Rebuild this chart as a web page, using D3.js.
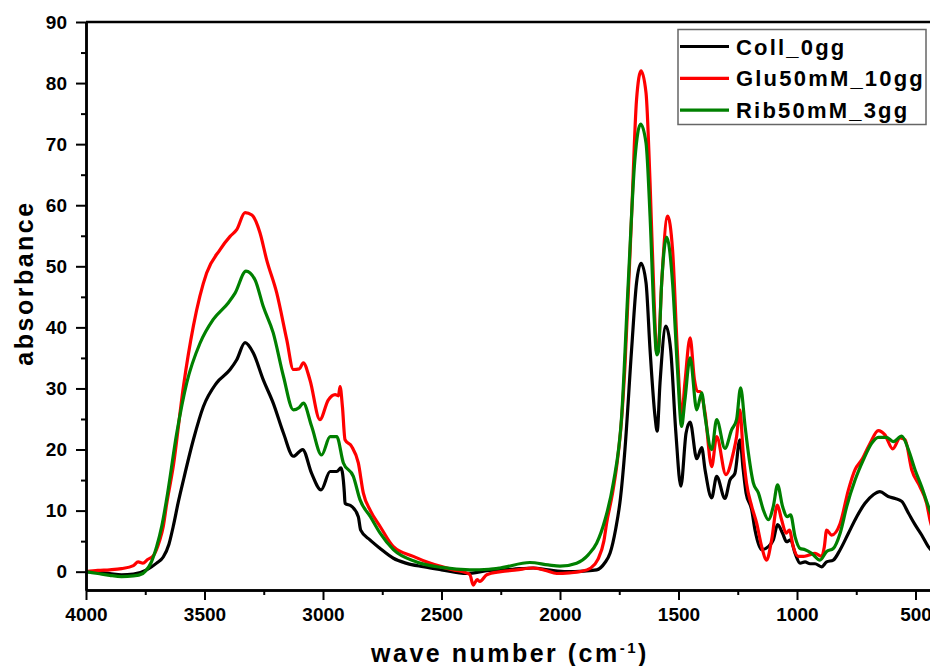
<!DOCTYPE html>
<html>
<head>
<meta charset="utf-8">
<script src="https://cdn.jsdelivr.net/npm/d3@7"></script>
<style>
html,body{margin:0;padding:0;background:#fff;overflow:hidden;}
svg{display:block;}
text{font-family:"Liberation Sans",Arial,sans-serif;font-weight:bold;fill:#000;}
</style>
</head>
<body>
<svg id="chart" width="930" height="666"></svg>
<script>
// ---- data ----
const seriesNames = ["Coll_0gg", "Glu50mM_10gg", "Rib50mM_3gg"];
const seriesColors = ["#000000", "#ff0000", "#008000"];
const xTickValues = [4000, 3500, 3000, 2500, 2000, 1500, 1000, 500];
const yTickValues = [0, 10, 20, 30, 40, 50, 60, 70, 80, 90];

const collData = [[4000,0],[3950,-0.1],[3900,-0.3],[3850,-0.5],[3800,-0.4],[3744,0.3],[3702,1.4],[3674,2.4],[3650,4.5],[3632,7.4],[3610,11.5],[3589,15],[3547,21.6],[3505,27.0],[3449,30.9],[3392,33.1],[3364,34.7],[3329,37.5],[3294,35.8],[3252,31.4],[3210,27.6],[3167,22.7],[3125,18.9],[3086,20.0],[3048,16.1],[3008,13.4],[2970,16.4],[2942,16.4],[2924,17],[2910,13],[2907,11.2],[2879,10.7],[2851,9.0],[2841,6.8],[2802,5.2],[2759,3.8],[2703,2.2],[2650,1.4],[2577,0.8],[2500,0.3],[2394,-0.3],[2300,0.2],[2200,0.4],[2113,0.6],[2050,0.3],[1972,0],[1900,0.1],[1845,0.3],[1810,1.5],[1789,3],[1765,7],[1745,12],[1726,20],[1698,36.3],[1677,47.3],[1658,50.5],[1637,47.3],[1620,36.3],[1599,25.4],[1590,23.0],[1578,30.9],[1553,40.2],[1533,36.3],[1511,22.7],[1490,14],[1468,22.7],[1451,24.5],[1423,18.5],[1402,20.3],[1388,16.7],[1360,12.1],[1339,15.6],[1304,12.0],[1283,15.0],[1262,16.1],[1241,21.6],[1227,16.7],[1215,12.9],[1191,10.1],[1177,6.8],[1149,3.6],[1121,4.1],[1100,5.2],[1082,7.7],[1061,6.3],[1044,4.9],[1027,5.2],[1008,3.0],[987,1.4],[966,1.6],[945,1.3],[924,1.3],[896,0.8],[875,1.6],[847,1.9],[818,3.6],[783,6.3],[748,9.0],[713,11.2],[678,12.6],[650,13.1],[615,12.3],[586,12.0],[558,11.5],[530,9.6],[502,7.7],[474,6.0],[446,4.1],[420,3.0]];

const gluData = [[4000,0],[3950,0.2],[3900,0.3],[3850,0.5],[3800,1.0],[3780,1.6],[3760,1.4],[3740,2.0],[3716,2.6],[3690,5],[3674,7.4],[3660,11],[3632,17.2],[3589,30.3],[3547,40.2],[3491,48.9],[3435,52.7],[3392,54.9],[3364,56],[3329,58.8],[3300,58.4],[3266,55.5],[3238,51.1],[3195,45.6],[3153,38],[3125,33.1],[3100,33.2],[3083,34.2],[3055,31.4],[3013,24.9],[2978,28.1],[2949,29],[2935,28.8],[2928,30.3],[2918,27],[2907,21.6],[2879,20.5],[2851,17.8],[2830,12.9],[2800,10],[2759,7.4],[2703,4.1],[2619,2.5],[2549,1.4],[2450,0.3],[2394,-0.2],[2380,-0.5],[2366,-2.2],[2350,-1.3],[2338,-1.6],[2309,-0.5],[2250,0],[2183,0.3],[2113,0.6],[2060,0.2],[2014,-0.3],[1960,-0.2],[1916,0],[1870,0.6],[1840,2],[1815,5],[1803,8.0],[1780,12.5],[1761,17.2],[1740,25],[1726,33.6],[1698,58.2],[1677,77.3],[1658,82],[1637,78.4],[1620,63.7],[1603,44.5],[1592,36],[1585,36.5],[1571,47.3],[1546,58.2],[1525,52.7],[1505,36.3],[1487,25.4],[1473,30.9],[1451,38.3],[1433,31.5],[1420,29.5],[1409,29.5],[1388,26],[1360,17.2],[1339,22.1],[1300,15.9],[1269,19.4],[1255,22.1],[1241,26.5],[1227,19.4],[1213,14.5],[1191,10.7],[1170,7.9],[1149,4.1],[1128,1.9],[1107,5.2],[1083,10.9],[1065,8.5],[1046,6.3],[1032,6.8],[1016,4.1],[995,2.5],[973,2.5],[952,2.7],[924,3.0],[896,2.5],[885,4],[875,6.8],[854,6.0],[818,7.9],[783,13.4],[755,16.7],[727,18.3],[692,21.0],[657,23.1],[629,22.4],[596,20.1],[565,21.9],[544,21.6],[516,16.7],[481,13.9],[453,11.2],[439,8.5],[420,6]];

const ribData = [[4000,0],[3950,-0.3],[3900,-0.6],[3850,-0.8],[3800,-0.7],[3760,-0.3],[3751,0],[3725,1.5],[3702,4.1],[3680,7.5],[3660,11.8],[3617,22.7],[3575,30.9],[3519,37.4],[3463,41.3],[3400,44.0],[3371,45.6],[3325,49.2],[3287,47.8],[3252,43.4],[3210,39.1],[3167,32],[3125,26.5],[3100,26.9],[3083,27.6],[3048,23.8],[3006,19.1],[2970,22.1],[2942,22.1],[2914,17.8],[2872,15.6],[2844,11.8],[2800,9],[2759,6.3],[2703,3.6],[2605,1.6],[2500,0.7],[2380,0.3],[2300,0.4],[2253,0.6],[2127,1.5],[2050,1.1],[2000,0.9],[1930,1.4],[1880,2.8],[1845,4.7],[1810,8.5],[1775,14.5],[1740,25.4],[1712,47.3],[1684,67.5],[1660,73.3],[1637,70.2],[1620,58.2],[1603,41.8],[1592,35.5],[1585,36],[1571,47.3],[1550,54.8],[1525,47.3],[1505,33.6],[1487,23.8],[1473,28.1],[1451,35.0],[1423,26.5],[1402,29.3],[1388,25.4],[1360,20],[1339,24.9],[1304,20.2],[1276,23.2],[1255,24.9],[1238,30.1],[1219,23.8],[1205,19.4],[1184,14.5],[1163,12.9],[1142,10.1],[1121,8.5],[1100,10.7],[1082,14.2],[1061,10.7],[1041,9.0],[1027,9.3],[1008,5.7],[987,3.8],[966,3.6],[938,3.0],[903,1.9],[875,3.3],[847,3.8],[818,6.3],[790,10.7],[755,15.0],[720,18.3],[685,21.0],[657,22.0],[622,22.0],[594,21.3],[558,22.2],[530,20],[502,16.7],[474,13.9],[446,10.7],[420,8]];

// ---- layout ----
const svg = d3.select("#chart");
const plotLeft = 86, plotTop = 22, plotBottom = 590;
const x = d3.scaleLinear().domain([4000, 400]).range([plotLeft, plotLeft + 3600 * 0.237]);
const y = d3.scaleLinear().domain([-3, 90]).range([plotBottom, plotTop]);
const plotRight = x(400);

svg.append("defs").append("clipPath").attr("id", "clip")
  .append("rect").attr("x", plotLeft).attr("y", plotTop).attr("width", plotRight - plotLeft).attr("height", plotBottom - plotTop);

// lines
const line = d3.line().x(d => x(d[0])).y(d => y(d[1])).curve(d3.curveMonotoneX);
const g = svg.append("g").attr("clip-path", "url(#clip)");
[collData, gluData, ribData].forEach((data, i) => {
  g.append("path").datum(data).attr("d", line)
    .attr("fill", "none").attr("stroke", seriesColors[i])
    .attr("stroke-width", 3.2).attr("stroke-linejoin", "round");
});

// axes
const xAxis = d3.axisBottom(x).tickValues(xTickValues).tickSize(10).tickSizeOuter(0).tickPadding(8).tickFormat(d3.format("d"));
const xMinor = d3.axisBottom(x).tickValues(d3.range(4000, 399, -250).filter(v => v % 500 !== 0)).tickSize(5).tickSizeOuter(0).tickFormat("");
const yAxis = d3.axisLeft(y).tickValues(yTickValues).tickSize(10).tickSizeOuter(0).tickPadding(9);
const yMinor = d3.axisLeft(y).tickValues(d3.range(5, 90, 10)).tickSize(5).tickSizeOuter(0).tickFormat("");

function styleAxis(sel) {
  sel.selectAll("path.domain").attr("stroke", "#000").attr("stroke-width", 2.5);
  sel.selectAll(".tick line").attr("stroke", "#000").attr("stroke-width", 2);
  sel.selectAll(".tick text").style("font-size", "19px").style("font-weight", "bold")
     .style("font-family", '"Liberation Sans", Arial, sans-serif').attr("fill", "#000");
}

svg.append("g").attr("transform", `translate(0,${plotBottom})`).call(xMinor).call(styleAxis);
svg.append("g").attr("transform", `translate(0,${plotBottom})`).call(xAxis).call(styleAxis);
svg.append("g").attr("transform", `translate(${plotLeft},0)`).call(yMinor).call(styleAxis);
svg.append("g").attr("transform", `translate(${plotLeft},0)`).call(yAxis).call(styleAxis);

// top frame
svg.append("line").attr("x1", plotLeft).attr("x2", plotRight).attr("y1", plotTop).attr("y2", plotTop)
  .attr("stroke", "#000").attr("stroke-width", 2.5);

// axis titles
svg.append("text").attr("transform", "translate(33,283) rotate(-90)")
  .attr("text-anchor", "middle").style("font-size", "25px").style("letter-spacing", "2.5px")
  .text("absorbance");
const xt = svg.append("text").attr("x", 510).attr("y", 662)
  .attr("text-anchor", "middle").style("font-size", "25px").style("letter-spacing", "2.5px");
xt.append("tspan").text("wave number (cm");
xt.append("tspan").attr("dy", -9).style("font-size", "15px").text("-1");
xt.append("tspan").attr("dy", 9).text(")");

// legend
const lg = svg.append("g");
lg.append("rect").attr("x", 678).attr("y", 29.5).attr("width", 248).attr("height", 95)
  .attr("fill", "#fff").attr("stroke", "#666").attr("stroke-width", 1.5);
seriesNames.forEach((name, i) => {
  const cy = 46.5 + i * 31.8;
  lg.append("line").attr("x1", 680).attr("x2", 729).attr("y1", cy).attr("y2", cy)
    .attr("stroke", seriesColors[i]).attr("stroke-width", 3.2);
  lg.append("text").attr("x", 736).attr("y", cy + 8)
    .style("font-size", "22px").style("letter-spacing", "2.2px").text(name);
});
</script>
</body>
</html>
